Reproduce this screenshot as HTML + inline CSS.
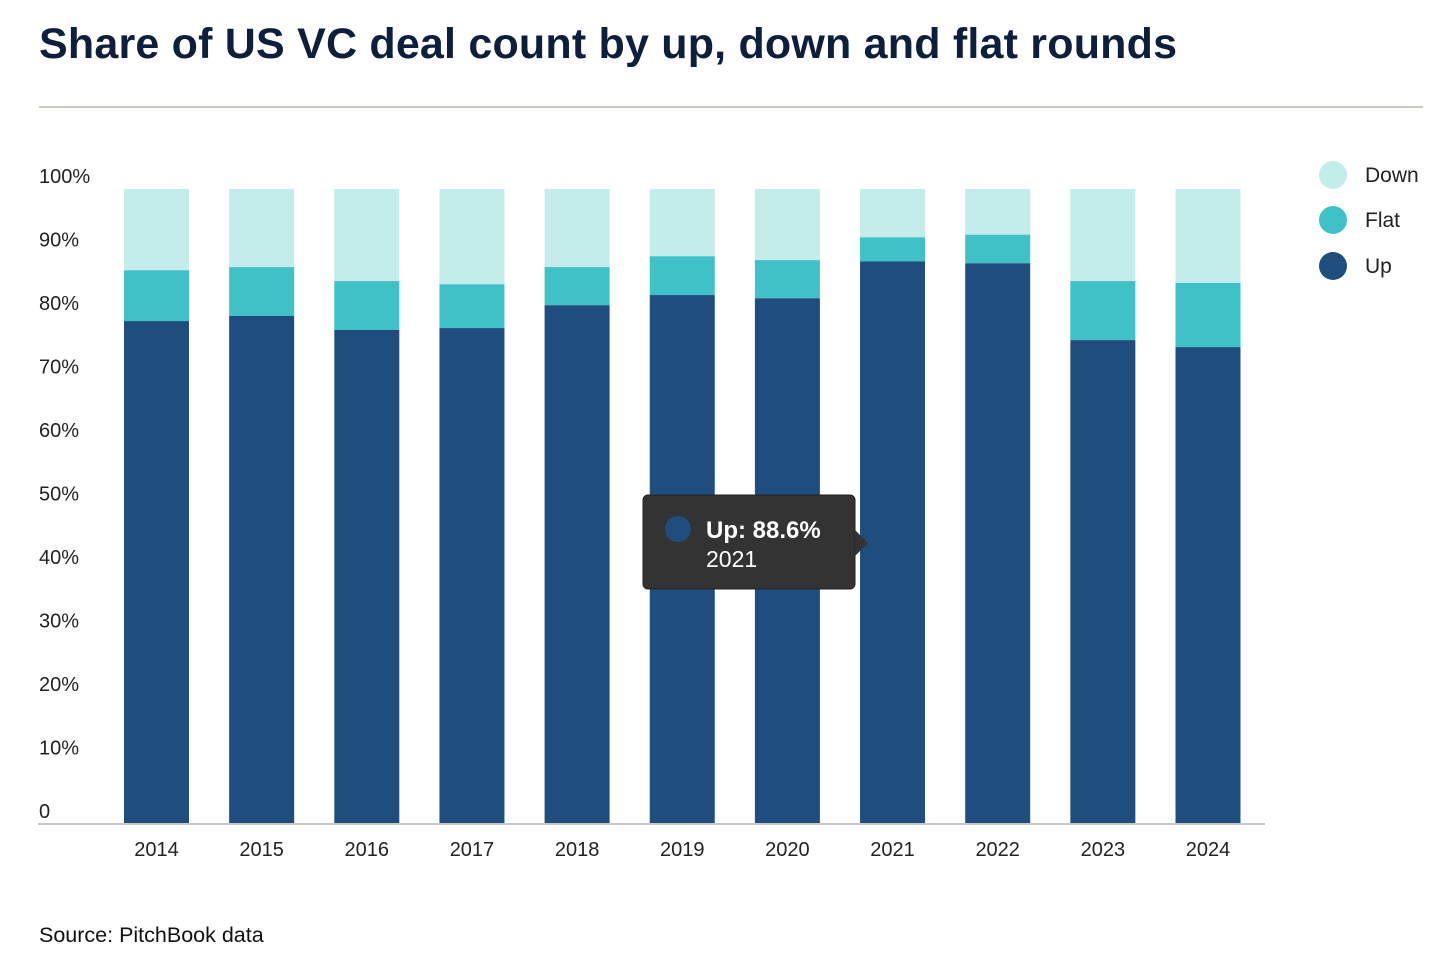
<!DOCTYPE html>
<html><head><meta charset="utf-8"><style>
body{margin:0;background:#fff;font-family:"Liberation Sans",sans-serif;}
#wrap{position:relative;width:1456px;height:973px;overflow:hidden;background:#fff}
h1{position:absolute;left:39px;top:20px;margin:0;font-size:43px;font-weight:bold;color:#0d1f3c;letter-spacing:0.2px}
#rule{position:absolute;left:39px;top:106px;width:1384px;height:2px;background:#c8cabd}
#src{position:absolute;left:39px;top:923px;font-size:21.5px;color:#111}
svg{position:absolute;left:0;top:0}
</style></head><body>
<div id="wrap">
<h1>Share of US VC deal count by up, down and flat rounds</h1>
<div id="rule"></div>
<svg id="chart" width="1456" height="973"></svg>
<div id="src">Source: PitchBook data</div>
</div>
<script>
const years=["2014","2015","2016","2017","2018","2019","2020","2021","2022","2023","2024"];
const upVals=[79.2,80.0,77.8,78.1,81.7,83.3,82.8,88.6,88.3,76.2,75.1];
const flatVals=[8.0,7.7,7.7,6.9,6.0,6.1,6.0,3.8,4.5,9.3,10.1];
const yTicks=[0,10,20,30,40,50,60,70,80,90,100];
const NS="http://www.w3.org/2000/svg";
const svg=document.getElementById('chart');
const y0=824,yTop=189;
function yScale(v){return y0-(v/100)*(y0-yTop);}
function xScale(i){return 156.5+i*105.15;}
const bw=65;
function mk(t,a,parent){const e=document.createElementNS(NS,t);for(const k in a)e.setAttribute(k,a[k]);(parent||svg).appendChild(e);return e;}
yTicks.forEach(t=>{
 const tx=mk('text',{x:39,y:yScale(t)-6,'font-size':20,fill:'#222','font-family':'Liberation Sans, sans-serif'});
 tx.textContent=t===0?'0':t+'%';
 
 
});
years.forEach((yr,i)=>{
 const cx=xScale(i),x=cx-bw/2;
 const u=upVals[i],f=flatVals[i];
 const segs=[['down',u+f,100,'#c3ecea'],['flat',u,u+f,'#40c1c7'],['up',0,u,'#1f4e7e']];
 segs.forEach(s=>{
  const r=mk('rect',{x:x,y:yScale(s[2]),width:bw,height:yScale(s[1])-yScale(s[2]),fill:s[3]});
  
  
 });
 const t=mk('text',{x:cx,y:856,'font-size':20,fill:'#222','text-anchor':'middle','font-family':'Liberation Sans, sans-serif'});
 t.textContent=yr;
 
 
});
const ax=mk('line',{x1:38,x2:1265,y1:y0,y2:y0,stroke:'#c8c8c8','stroke-width':2});


[['Down','#c3ecea',175],['Flat','#40c1c7',220],['Up','#1f4e7e',266]].forEach(l=>{
 const g=mk('g',{});
 
 
 mk('circle',{cx:1333,cy:l[2],r:14,fill:l[1]},g);
 const t=mk('text',{x:1365,y:l[2]+7,'font-size':21,fill:'#222','font-family':'Liberation Sans, sans-serif'},g);
 t.textContent=l[0];
});
const ti=7;
const tg=mk('g',{});


mk('rect',{x:643,y:495,width:212,height:94,rx:5,fill:'#333',stroke:'#222'},tg);
mk('polygon',{points:'855,530 868,543 855,556',fill:'#333'},tg);
mk('circle',{cx:678,cy:529,r:13,fill:'#1f4e7e'},tg);
const t1=mk('text',{x:706,y:538,'font-size':24,'font-weight':'bold',fill:'#fff','font-family':'Liberation Sans, sans-serif'},tg);
t1.textContent='Up: '+upVals[ti]+'%';
const t2=mk('text',{x:706,y:567,'font-size':23,fill:'#fff','font-family':'Liberation Sans, sans-serif'},tg);
t2.textContent=years[ti];
</script>
</body></html>
